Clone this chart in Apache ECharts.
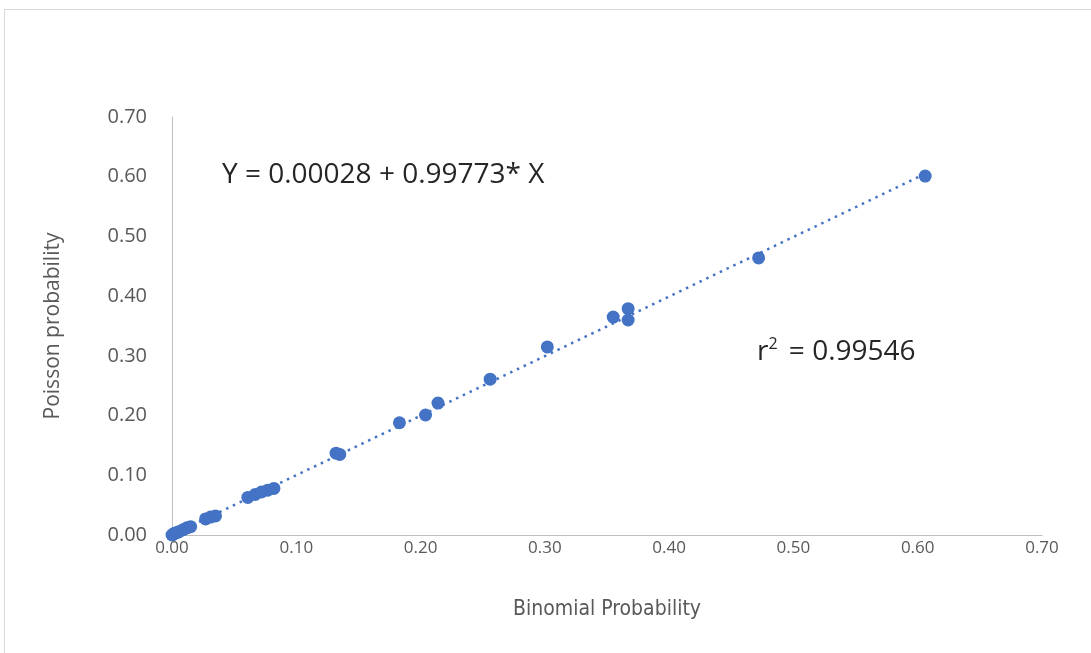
<!DOCTYPE html>
<html>
<head>
<meta charset="utf-8">
<script src="https://cdn.jsdelivr.net/npm/echarts@6/dist/echarts.min.js"></script>
<style>
    html, body { margin: 0; padding: 0; background: #fff; }
    #chart { width: 1091px; height: 653px; }
</style>
</head>
<body>
<div id="chart"></div>
<script>
    // binomial vs poisson probabilities
    const binomial = [0.000, 0.001, 0.002, 0.004, 0.006, 0.009, 0.012, 0.015, 0.027, 0.031, 0.035,
        0.061, 0.067, 0.072, 0.077, 0.082, 0.132, 0.135, 0.183, 0.204, 0.214, 0.256, 0.302,
        0.355, 0.367, 0.367, 0.472, 0.606];
    const poisson = [0.000, 0.001, 0.003, 0.004, 0.006, 0.009, 0.012, 0.014, 0.027, 0.030, 0.032,
        0.063, 0.068, 0.072, 0.075, 0.078, 0.137, 0.135, 0.188, 0.201, 0.221, 0.261, 0.315,
        0.365, 0.379, 0.360, 0.464, 0.601];
    // trendline ends (Y = 0.00028 + 0.99773 * X)
    const trendX = [0, 0.606];
    const trendY = [0.00028, 0.6049];

    let myChart = echarts.init(document.getElementById('chart'));
    let font = 'Open Sans';
    let narrow = '"DejaVu Sans Condensed", sans-serif';
    let option = {
        backgroundColor: '#fff',
        animation: false,
        textStyle: { fontFamily: font },
        grid: { left: 172, right: 49, top: 117, bottom: 118 },
        xAxis: {
            type: 'value',
            min: 0, max: 0.7, interval: 0.1,
            name: 'Binomial Probability',
            nameLocation: 'middle',
            nameGap: 64,
            nameTextStyle: { color: '#595959', fontSize: 21, fontFamily: narrow },
            splitLine: { show: false },
            axisTick: { show: false },
            axisLine: { lineStyle: { color: '#bfbfbf', width: 1 } },
            axisLabel: { color: '#595959', fontSize: 17, margin: 5, formatter: v => v.toFixed(2) }
        },
        yAxis: {
            type: 'value',
            min: 0, max: 0.7, interval: 0.1,
            name: 'Poisson probability',
            nameLocation: 'middle',
            nameGap: 108,
            nameTextStyle: { color: '#595959', fontSize: 21, fontFamily: font },
            splitLine: { show: false },
            axisTick: { show: false },
            axisLine: { show: true, lineStyle: { color: '#bfbfbf', width: 1 } },
            axisLabel: { color: '#595959', fontSize: 20, margin: 25, formatter: v => v.toFixed(2) }
        },
        graphic: [
            {
                type: 'rect', z: -1, silent: true,
                shape: { x: 4.5, y: 9.5, width: 1200, height: 800 },
                style: { fill: 'none', stroke: '#d9d9d9', lineWidth: 1 }
            },
            {
                type: 'text', left: 222, top: 161,
                style: { text: 'Y = 0.00028 + 0.99773* X', fill: '#262626', fontSize: 28, fontFamily: font }
            },
            {
                type: 'text', left: 757, top: 336,
                style: {
                    text: 'r{sup|2} = 0.99546',
                    fill: '#262626', fontSize: 28, fontFamily: font,
                    rich: { sup: { fontSize: 16, fill: '#262626', fontFamily: font, padding: [0, 4, 16, 0] } }
                }
            }
        ],
        series: [
            {
                type: 'line',
                data: trendX.map((x, i) => [x, trendY[i]]),
                showSymbol: false,
                lineStyle: { color: '#4472c4', width: 2.5, type: [2.5, 5] },
                z: 1
            },
            {
                type: 'scatter',
                data: binomial.map((x, i) => [x, poisson[i]]),
                symbolSize: 13,
                itemStyle: { color: '#4472c4', opacity: 1 },
                z: 2
            }
        ]
    };
    myChart.setOption(option);
</script>
</body>
</html>
